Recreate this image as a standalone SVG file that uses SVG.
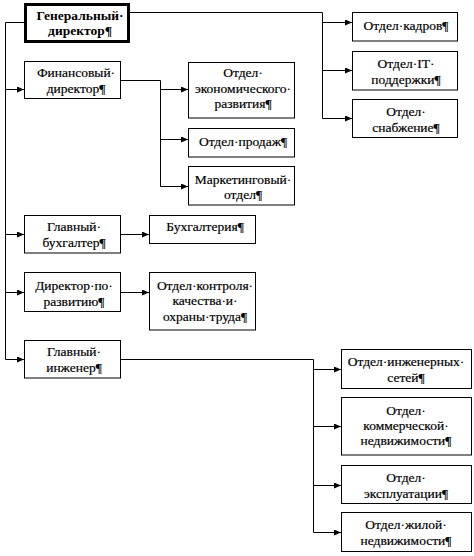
<svg xmlns="http://www.w3.org/2000/svg" width="474" height="556" viewBox="0 0 474 556">
<style>
.box{fill:#fff;stroke:#000;stroke-width:1}
.thick{stroke-width:3}
text{font-family:'Liberation Serif','Times New Roman','DejaVu Serif',serif;font-size:13.5px;fill:#000;stroke:#000;stroke-width:0.2;text-anchor:middle}
.b{font-weight:bold;stroke-width:0}
.c{fill:none;stroke:#000;stroke-width:1}
.a{fill:none;stroke:#000;stroke-width:1;marker-end:url(#ah)}
</style>
<defs>
<marker id="ah" markerUnits="userSpaceOnUse" markerWidth="7" markerHeight="6" refX="7" refY="3" orient="auto">
<path d="M0,0 L7,3 L0,6 z" fill="#000"/>
</marker>
</defs>
<rect width="474" height="556" fill="#fff"/>
<g id="connectors">
<path class="c" d="M130,12.5 H322.5 V118.5"/>
<path class="a" d="M322.5,22.5 H352"/>
<path class="a" d="M322.5,70.5 H352"/>
<path class="a" d="M322.5,118.5 H352"/>
<path class="c" d="M24,22.5 H5.5 V359.5"/>
<path class="a" d="M5.5,89.5 H24"/>
<path class="a" d="M5.5,234.5 H24"/>
<path class="a" d="M5.5,292.5 H24"/>
<path class="a" d="M5.5,359.5 H24"/>
<path class="c" d="M121,80.5 H160.5 V186.5"/>
<path class="a" d="M160.5,89.5 H188"/>
<path class="a" d="M160.5,139.5 H188"/>
<path class="a" d="M160.5,186.5 H188"/>
<path class="a" d="M121,234.5 H149"/>
<path class="a" d="M121,292.5 H149"/>
<path class="c" d="M121,359.5 H313.5 V532.5"/>
<path class="a" d="M313.5,369.5 H341"/>
<path class="a" d="M313.5,426.5 H341"/>
<path class="a" d="M313.5,485.5 H341"/>
<path class="a" d="M313.5,532.5 H341"/>
</g>
<g id="gen">
<rect class="box thick" x="25.5" y="4.5" width="103" height="37"/>
<text class="b" x="80" y="20">Генеральный·</text>
<text class="b" x="80" y="35">директор¶</text>
</g>
<g id="fin">
<rect class="box" x="24.5" y="61.5" width="96" height="37"/>
<text x="76" y="77">Финансовый·</text>
<text x="76" y="93">директор¶</text>
</g>
<g id="econ">
<rect class="box" x="188.5" y="62.5" width="106" height="55.5"/>
<text x="243" y="77">Отдел·</text>
<text x="243" y="92.5">экономического·</text>
<text x="243" y="108">развития¶</text>
</g>
<g id="sales">
<rect class="box" x="188.5" y="128.5" width="106" height="28.5"/>
<text x="243" y="146">Отдел·продаж¶</text>
</g>
<g id="mkt">
<rect class="box" x="188.5" y="166.5" width="106" height="38.5"/>
<text x="243" y="183.5">Маркетинговый·</text>
<text x="243" y="199">отдел¶</text>
</g>
<g id="chief-acc">
<rect class="box" x="24.5" y="215.5" width="96" height="37.5"/>
<text x="74" y="231">Главный·</text>
<text x="74" y="246.5">бухгалтер¶</text>
</g>
<g id="acc">
<rect class="box" x="149.5" y="215.5" width="106" height="28"/>
<text x="205" y="231">Бухгалтерия¶</text>
</g>
<g id="dev">
<rect class="box" x="24.5" y="272.5" width="96" height="39"/>
<text x="74" y="289.5">Директор·по·</text>
<text x="74" y="305.5">развитию¶</text>
</g>
<g id="qc">
<rect class="box" x="149.5" y="272.5" width="106" height="57.5"/>
<text x="205" y="289.5">Отдел·контроля·</text>
<text x="205" y="305">качества·и·</text>
<text x="205" y="320.5">охраны·труда¶</text>
</g>
<g id="eng">
<rect class="box" x="24.5" y="340.5" width="96" height="37.5"/>
<text x="74" y="356">Главный·</text>
<text x="74" y="371.5">инженер¶</text>
</g>
<g id="hr">
<rect class="box" x="352.5" y="12.5" width="105" height="28.5"/>
<text x="406" y="29.5">Отдел·кадров¶</text>
</g>
<g id="it">
<rect class="box" x="352.5" y="51.5" width="105" height="38.5"/>
<text x="406" y="68">Отдел·IT·</text>
<text x="406" y="84">поддержки¶</text>
</g>
<g id="supply">
<rect class="box" x="352.5" y="99.5" width="105" height="38"/>
<text x="406" y="116">Отдел·</text>
<text x="406" y="131.5">снабжение¶</text>
</g>
<g id="net">
<rect class="box" x="341.5" y="349.5" width="130" height="39"/>
<text x="406" y="365.5">Отдел·инженерных·</text>
<text x="406" y="381.5">сетей¶</text>
</g>
<g id="comm">
<rect class="box" x="341.5" y="397.5" width="130" height="57.5"/>
<text x="406" y="415">Отдел·</text>
<text x="406" y="430">коммерческой·</text>
<text x="406" y="445">недвижимости¶</text>
</g>
<g id="expl">
<rect class="box" x="341.5" y="465.5" width="130" height="38"/>
<text x="406" y="481.5">Отдел·</text>
<text x="406" y="497.5">эксплуатации¶</text>
</g>
<g id="res">
<rect class="box" x="341.5" y="512.5" width="130" height="39"/>
<text x="406" y="529">Отдел·жилой·</text>
<text x="406" y="544.5">недвижимости¶</text>
</g>
</svg>
